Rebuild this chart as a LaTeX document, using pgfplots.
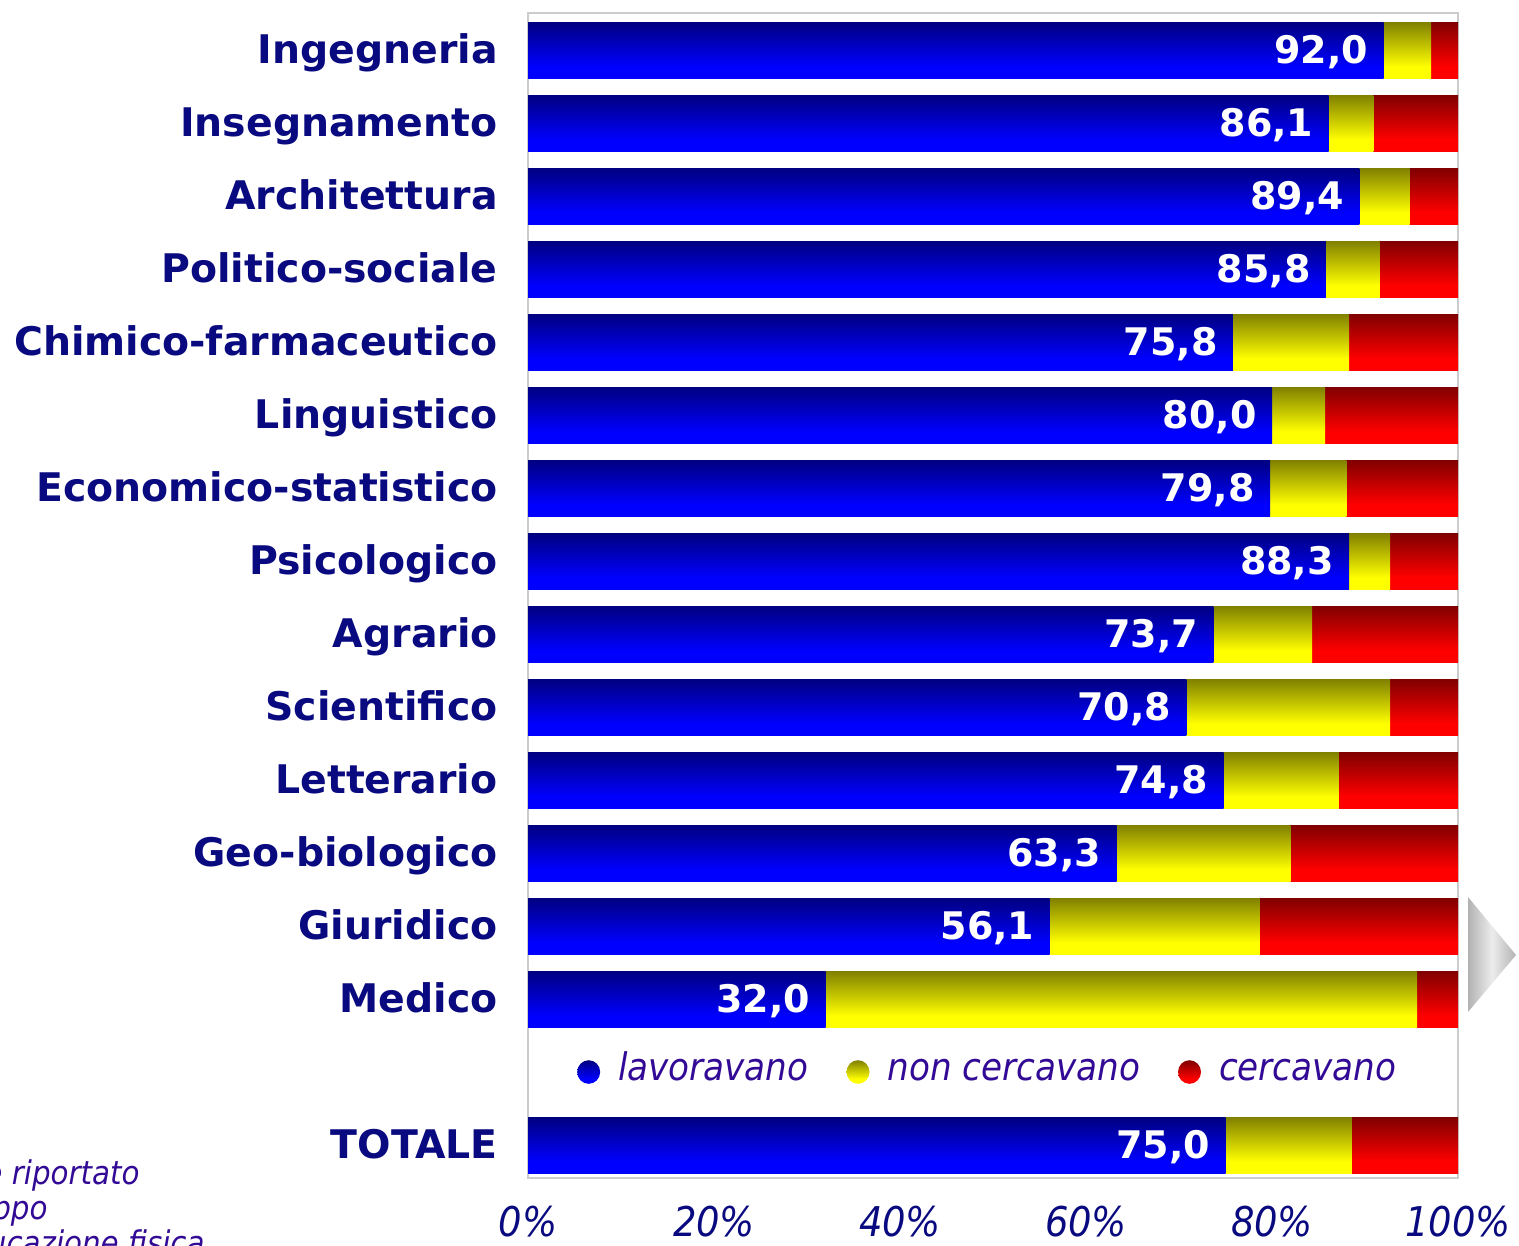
\documentclass[border=0pt]{standalone}
\usepackage{pgfplots}
\pgfplotsset{compat=1.18}
\usepackage{pgfplotstable}
\usepackage{fontspec}
\setmainfont{DejaVu Sans}
\newfontfamily\condfont{DejaVu Sans Condensed}
\definecolor{lblnavy}{RGB}{10,10,128}
\definecolor{legpurple}{RGB}{50,10,150}
\definecolor{bnavy}{RGB}{0,0,128}
\definecolor{bblue}{RGB}{0,0,255}
\definecolor{yolive}{RGB}{128,128,0}
\definecolor{yyel}{RGB}{255,255,0}
\definecolor{rdark}{RGB}{128,0,0}
\definecolor{rred}{RGB}{255,0,0}
\pgfdeclareverticalshading{shblue}{100bp}{color(0bp)=(bblue); color(35bp)=(bblue); color(75bp)=(bnavy); color(100bp)=(bnavy)}
\pgfdeclareverticalshading{shyel}{100bp}{color(0bp)=(yyel); color(35bp)=(yyel); color(75bp)=(yolive); color(100bp)=(yolive)}
\pgfdeclareverticalshading{shred}{100bp}{color(0bp)=(rred); color(35bp)=(rred); color(75bp)=(rdark); color(100bp)=(rdark)}

\pgfplotstableread{
y lav non cer
0 92.0 5.1 2.9
1 86.1 4.8 9.1
2 89.4 5.4 5.2
3 85.8 5.8 8.4
4 75.8 12.5 11.7
5 80.0 5.7 14.3
6 79.8 8.2 12.0
7 88.3 4.4 7.3
8 73.7 10.6 15.7
9 70.8 21.9 7.3
10 74.8 12.4 12.8
11 63.3 18.7 18.0
12 56.1 22.6 21.3
13 32.0 63.6 4.4
15 75.0 13.6 11.4
}\datatable

\begin{document}
\begin{tikzpicture}
\useasboundingbox (0,0) rectangle (759.5pt,623pt);
\clip (0,0) rectangle (759.5pt,623pt);
\begin{axis}[
  at={(264pt,34pt)}, anchor=south west,
  scale only axis, width=465pt, height=582.5pt,
  xbar, bar width=0.767, bar shift=0pt,
  xmin=0, xmax=100,
  ymin=-0.507, ymax=15.452, y dir=reverse,
  axis line style={draw=gray!40, line width=0.8pt},
  major tick length=0pt,
  xtick={0,20,40,60,80,100},
  xticklabels={0\%,20\%,40\%,60\%,80\%,100\%},
  xticklabel style={anchor=center, inner sep=0pt, text height=0.729em, text depth=0pt, yshift=-25.5pt, text=lblnavy, font=\condfont\itshape\fontsize{20.5pt}{24pt}\selectfont},
  ytick={0,1,2,3,4,5,6,7,8,9,10,11,12,13,15},
  yticklabels={Ingegneria,Insegnamento,Architettura,Politico-sociale,Chimico-farmaceutico,Linguistico,Economico-statistico,Psicologico,Agrario,Scientifico,Letterario,Geo-biologico,Giuridico,Medico,TOTALE},
  yticklabel style={anchor=east, inner sep=0pt, xshift=-15pt, yshift=-3pt, text height=0.729em, text depth=0pt, text=lblnavy, font=\bfseries\fontsize{19.7pt}{24pt}\selectfont},
  legend columns=3,
  legend style={at={(axis cs:4.6,14)}, anchor=west, draw=none, fill=none,
    font=\condfont\itshape\fontsize{19pt}{22pt}\selectfont, text=legpurple,
    nodes={text height=0.85em, text depth=0pt},
    /tikz/every even column/.append style={column sep=17pt},
    /tikz/every odd column/.append style={column sep=7pt}},
  legend cell align=left,
]
\pgfplotsinvokeforeach{0,1,2,3,4,5,6,7,8,9,10,11,12,13,15}{
  \addplot[forget plot, xbar, bar width=0.767, bar shift=0pt, draw=none, shade, shading=shred,
    restrict y to domain=#1:#1]
    table[x expr=\thisrow{lav}+\thisrow{non}+\thisrow{cer}, y=y]{\datatable};
  \addplot[forget plot, xbar, bar width=0.767, bar shift=0pt, draw=none, shade, shading=shyel,
    restrict y to domain=#1:#1]
    table[x expr=\thisrow{lav}+\thisrow{non}, y=y]{\datatable};
  \addplot[forget plot, xbar, bar width=0.767, bar shift=0pt, draw=none, shade, shading=shblue,
    restrict y to domain=#1:#1,
    nodes near coords, point meta=x,
    every node near coord/.append style={anchor=east, inner sep=0pt, xshift=-7.5pt, yshift=-3pt, text=white,
      text height=0.729em, text depth=0pt,
      font=\bfseries\fontsize{19pt}{22pt}\selectfont,
      /pgf/number format/.cd, fixed, fixed zerofill, precision=1, use comma, assume math mode=true}]
    table[x=lav, y=y]{\datatable};
}
\addlegendimage{legend image code/.code={\shade[draw=none, shading=shblue] (5.75pt,0pt) ellipse [x radius=5.75pt, y radius=5.9pt];}}
\addlegendentry{lavoravano}
\addlegendimage{legend image code/.code={\shade[draw=none, shading=shyel] (5.75pt,0pt) ellipse [x radius=5.75pt, y radius=5.9pt];}}
\addlegendentry{non cercavano}
\addlegendimage{legend image code/.code={\shade[draw=none, shading=shred] (5.75pt,0pt) ellipse [x radius=5.75pt, y radius=5.9pt];}}
\addlegendentry{cercavano}
\end{axis}
\begin{scope}[x=0.5pt, y=-0.5pt, shift={(0,623pt)}]
\shade[left color=gray!60, right color=gray!60, middle color=gray!15] (1468,897) -- (1516,955) -- (1468,1012) -- cycle;
\begin{scope}[every node/.style={text=legpurple, font=\condfont\itshape\fontsize{16.3pt}{20pt}\selectfont, inner sep=0pt}]
\node[anchor=base east] at (140,1185) {non è riportato};
\node[anchor=base east] at (48,1220) {il gruppo};
\node[anchor=base east] at (205,1255) {Educazione fisica};
\end{scope}
\end{scope}
\end{tikzpicture}
\end{document}
